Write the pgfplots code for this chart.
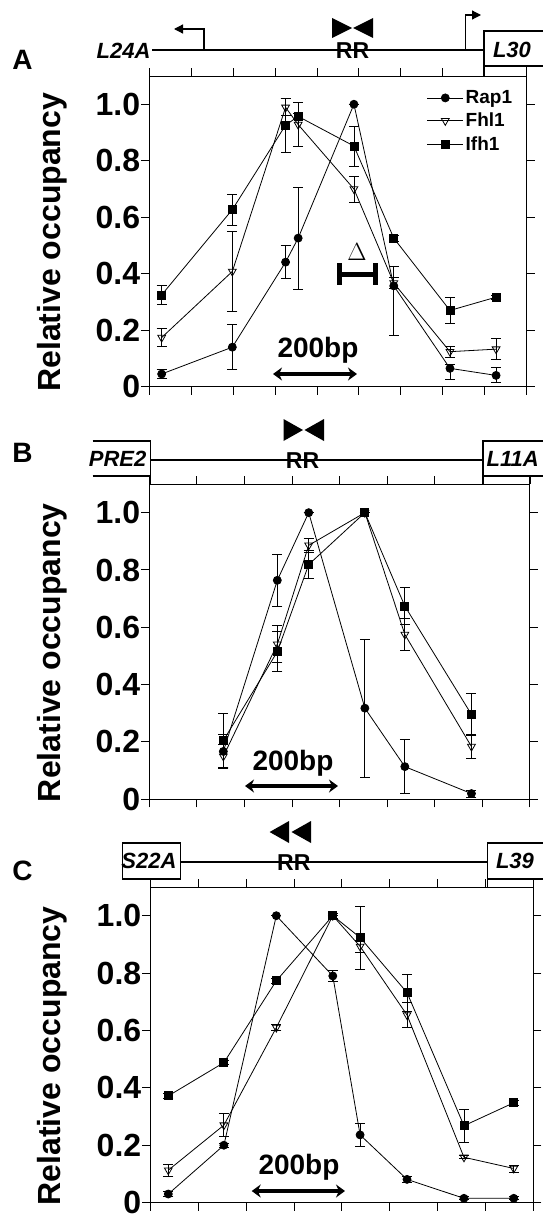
\documentclass[border=0pt]{standalone}
\usepackage{pgfplots}
\pgfplotsset{compat=1.18}
\usepackage{fontspec}
\setmainfont{Liberation Sans}
\usetikzlibrary{arrows.meta}

\pgfplotsset{
  occ/.style={
    scale only axis, xmin=0, ymin=0, ymax=1.1,
    axis line style={line width=1pt},
    tick align=outside, major tick length=8pt,
    every tick/.style={black, line width=1pt},
    xtick distance=1, xticklabels={},
    xtick pos=both, ytick pos=both, yticklabel pos=left,
    ytick={0,0.2,0.4,0.6,0.8,1.0},
    yticklabels={0,0.2,0.4,0.6,0.8,1.0},
    yticklabel style={font=\fontsize{32}{34}\selectfont\bfseries, inner sep=1pt},
    ylabel={Relative occupancy},
    ylabel style={font=\fontsize{32}{34}\selectfont\bfseries,
      at={(axis description cs:-0.256,0.465)}, anchor=center},
    clip=false,
  },
  rap/.style={black, line width=0.8pt, mark=*, mark size=4pt,
    mark options={solid, fill=black}},
  fhl/.style={black, line width=0.8pt, mark=triangle, mark size=4.5pt,
    mark options={solid, rotate=180, fill=white}},
  ifh/.style={black, line width=0.8pt, mark=square*, mark size=4pt,
    mark options={solid, fill=black}},
  ebar/.style={error bars/.cd, y dir=both, y explicit,
    error mark options={rotate=90, mark size=5pt, line width=0.8pt, black},
    error bar style={line width=0.8pt, black}},
}

\begin{document}
\begin{tikzpicture}
\useasboundingbox (0,0) rectangle (542pt,-1215pt);

% ---------- panel A
\begin{axis}[occ, at={(149.3pt,-386.7pt)}, anchor=south west,
  width=377.4pt, height=310.7pt, xmax=9,
  legend style={at={(axis description cs:0.735,0.96)}, anchor=north west,
    draw=none, fill=none, font=\fontsize{19}{21}\selectfont\bfseries,
    row sep=4pt, inner sep=0pt},
  legend cell align=left,
  legend image code/.code={\draw[mark repeat=2,mark phase=2,#1]
    plot coordinates {(0pt,0pt) (18pt,0pt) (36pt,0pt)};},
]
\addplot[rap, ebar] coordinates {
  (0.295,0.045) +- (0,0.015)
  (1.98,0.140) +- (0,0.08)
  (3.25,0.441) += (0,0.06) -= (0,0.056)
  (3.55,0.526) +- (0,0.18)
  (4.88,1.000) +- (0,0)
  (5.83,0.357) += (0,0.07) -= (0,0.175)
  (7.17,0.065) += (0,0.015) -= (0,0.04)
  (8.27,0.040) += (0,0.03) -= (0,0.025)
};
\addplot[fhl, ebar] coordinates {
  (0.295,0.174) +- (0,0.032)
  (1.98,0.408) +- (0,0.143)
  (3.25,0.989) +- (0,0.03)
  (3.55,0.928) +- (0,0.078)
  (4.88,0.700) +- (0,0.046)
  (5.83,0.367) +- (0,0.02)
  (7.17,0.124) +- (0,0.02)
  (8.27,0.133) +- (0,0.038)
};
\addplot[ifh, ebar] coordinates {
  (0.295,0.325) +- (0,0.035)
  (1.98,0.627) +- (0,0.055)
  (3.25,0.926) +- (0,0.095)
  (3.55,0.957) +- (0,0.01)
  (4.88,0.852) +- (0,0.071)
  (5.83,0.526) +- (0,0.01)
  (7.17,0.270) +- (0,0.045)
  (8.27,0.317) +- (0,0.007)
};
\legend{Rap1,Fhl1,Ifh1}
\end{axis}

% ---------- panel B
\begin{axis}[occ, at={(149.3pt,-799.3pt)}, anchor=south west,
  width=380.7pt, height=315.3pt, xmax=8]
\addplot[rap, ebar] coordinates {
  (1.556,0.167) +- (0,0.06)
  (2.69,0.764) +- (0,0.09)
  (3.35,1.000) +- (0,0)
  (4.53,0.318) +- (0,0.24)
  (5.37,0.114) +- (0,0.094)
  (6.77,0.020) +- (0,0.012)
};
\addplot[fhl, ebar] coordinates {
  (1.556,0.150) +- (0,0.04)
  (2.69,0.541) +- (0,0.065)
  (3.35,0.886) +- (0,0.025)
  (4.53,1.000) +- (0,0)
  (5.37,0.575) +- (0,0.055)
  (6.77,0.184) +- (0,0.042)
};
\addplot[ifh, ebar] coordinates {
  (1.556,0.205) +- (0,0.095)
  (2.69,0.515) +- (0,0.07)
  (3.35,0.819) +- (0,0.05)
  (4.53,1.000) +- (0,0)
  (5.37,0.674) +- (0,0.065)
  (6.77,0.296) +- (0,0.072)
};
\end{axis}

% ---------- panel C
\begin{axis}[occ, at={(150.4pt,-1202.6pt)}, anchor=south west,
  width=383pt, height=315.6pt, xmax=8]
\addplot[rap, ebar] coordinates {
  (0.374,0.030) +- (0,0.008)
  (1.535,0.200) +- (0,0.008)
  (2.63,1.000) +- (0,0)
  (3.81,0.790) +- (0,0.02)
  (4.38,0.236) +- (0,0.04)
  (5.36,0.081) +- (0,0.01)
  (6.55,0.015) +- (0,0.005)
  (7.59,0.015) +- (0,0.005)
};
\addplot[fhl, ebar] coordinates {
  (0.374,0.113) +- (0,0.02)
  (1.535,0.270) +- (0,0.04)
  (2.63,0.610) +- (0,0.01)
  (3.81,1.000) +- (0,0)
  (4.38,0.893) +- (0,0.02)
  (5.36,0.654) +- (0,0.045)
  (6.55,0.158) +- (0,0.005)
  (7.59,0.119) +- (0,0.012)
};
\addplot[ifh, ebar] coordinates {
  (0.374,0.372) +- (0,0.008)
  (1.535,0.488) +- (0,0.008)
  (2.63,0.773) +- (0,0.008)
  (3.81,1.000) +- (0,0.008)
  (4.38,0.924) +- (0,0.11)
  (5.36,0.732) +- (0,0.065)
  (6.55,0.268) +- (0,0.058)
  (7.59,0.348) +- (0,0.008)
};
\end{axis}

% ---------- gene maps and scale bars
\begin{scope}[x=1pt, y=-1pt, line width=1.2pt]
\tikzset{lab/.style={font=\fontsize{28}{28}\selectfont\bfseries},
  rr/.style={font=\fontsize{23}{23}\selectfont\bfseries},
  gene/.style={font=\fontsize{22}{22}\selectfont\bfseries\itshape, inner sep=0pt},
  bp/.style={font=\fontsize{28}{28}\selectfont\bfseries},
  dbl/.style={{Stealth[length=9pt,width=13pt]}-{Stealth[length=9pt,width=13pt]}, line width=3.5pt}}
% A
\node[lab] at (22.5,60) {A};
\node[gene, anchor=east] at (151,51) {L24A};
\draw (152,50) -- (484,50);
\draw (550,31) -- (484,31) -- (484,76);
\draw (484,66) -- (550,66);
\draw (526.7,76) -- (526.7,66);
\node[gene] at (512,50) {L30};
\draw[-{Triangle[length=9pt,width=9pt]}] (204,50) -- (204,29) -- (174,29);
\draw[-{Triangle[length=9pt,width=9pt]}] (465.6,50) -- (465.6,15) -- (481,15);
\fill (332,18) -- (352,28) -- (332,38) -- cycle;
\fill (373,18) -- (353,28) -- (373,38) -- cycle;
\node[rr] at (352.6,51) {RR};
\node[bp] at (318,350) {200bp};
\draw[dbl] (273,374) -- (357,374);
\node[font=\fontsize{24}{24}\selectfont] at (357,252) {$\Delta$};
\draw[line width=5pt] (339,274) -- (375,274) (339,263) -- (339,285) (375,263) -- (375,285);
% B
\node[lab] at (22.5,453) {B};
\draw (92.6,441) -- (150.4,441) -- (150.4,484);
\draw (92.6,476) -- (150.4,476);
\node[gene, anchor=east] at (147,459) {PRE2};
\draw (150.4,460) -- (483,460);
\draw (550,441) -- (483,441) -- (483,484);
\draw (483,476) -- (550,476);
\draw (530,484) -- (530,476);
\node[gene, anchor=west] at (486,459) {L11A};
\fill (283.5,419) -- (303,430) -- (283.5,441) -- cycle;
\fill (324,419) -- (304.5,430) -- (324,441) -- cycle;
\node[rr] at (302.5,461) {RR};
\node[bp] at (293,763) {200bp};
\draw[dbl] (245,786) -- (338,786);
% C
\node[lab] at (22.5,871) {C};
\draw (122.7,843) rectangle (180.8,879);
\node[gene] at (149,861) {S22A};
\draw (150.4,887) -- (150.4,879);
\draw (180.8,862) -- (487.4,862);
\draw (550,843) -- (487.4,843) -- (487.4,887);
\draw (487.4,879) -- (550,879);
\draw (533.5,887) -- (533.5,879);
\node[gene] at (515,861) {L39};
\fill (289,821) -- (269.6,832) -- (289,843) -- cycle;
\fill (311,821) -- (291.5,832) -- (311,843) -- cycle;
\node[rr] at (293.8,863) {RR};
\node[bp] at (299,1167) {200bp};
\draw[dbl] (251.7,1191) -- (345,1191);
\end{scope}
\end{tikzpicture}
\end{document}
